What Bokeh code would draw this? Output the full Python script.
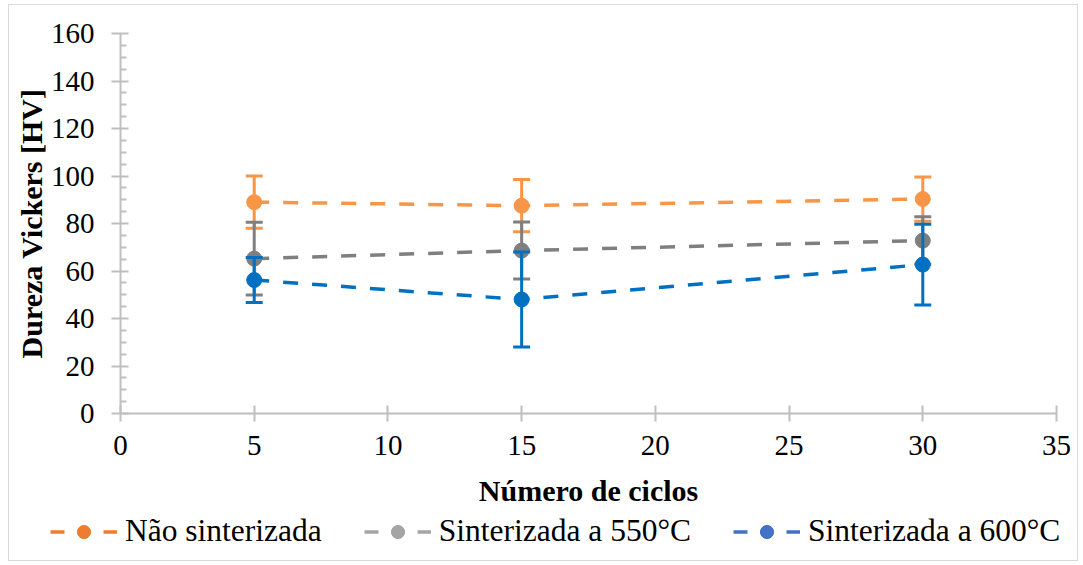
from bokeh.plotting import figure
from bokeh.models import ColumnDataSource, Legend, LegendItem, Range1d, FixedTicker
from bokeh.embed import file_html
from bokeh.resources import INLINE

# Hardness (HV) versus number of cycles, mean and standard deviation
ciclos = [5, 15, 30]

nao_sinterizada = [89.0, 87.5, 90.3]
nao_sinterizada_dp = [11.0, 11.0, 9.3]

sinterizada_550 = [65.2, 68.6, 72.8]
sinterizada_550_dp = [15.3, 12.0, 10.0]

sinterizada_600 = [56.2, 48.0, 62.7]
sinterizada_600_dp = [9.5, 20.0, 17.0]

x_ticks = [0, 5, 10, 15, 20, 25, 30, 35]
y_ticks = [0, 20, 40, 60, 80, 100, 120, 140, 160]

series = [
    ("Não sinterizada", nao_sinterizada, nao_sinterizada_dp, "#F79646", "#ED7D31"),
    ("Sinterizada a 550°C", sinterizada_550, sinterizada_550_dp, "#7F7F7F", "#A5A5A5"),
    ("Sinterizada a 600°C", sinterizada_600, sinterizada_600_dp, "#0070C0", "#4472C4"),
]

SERIF = "Liberation Serif"
W = 1070
BORDER = "1px solid #d9d9d9"

p = figure(
    width=W, height=505,
    x_range=Range1d(0, 35), y_range=Range1d(0, 160),
    output_backend="svg", toolbar_location=None,
    min_border_left=111, min_border_right=23,
    min_border_top=28, min_border_bottom=97,
)
p.margin = (4, 3, 0, 8)
p.styles = {"border": BORDER, "border-bottom": "none"}
p.outline_line_color = None
p.xgrid.visible = False
p.ygrid.visible = False
p.background_fill_color = "white"
p.border_fill_color = "white"

axis_color = "#BFBFBF"
for ax in (p.xaxis[0], p.yaxis[0]):
    ax.axis_line_color = axis_color
    ax.axis_line_width = 2
    ax.major_tick_line_color = axis_color
    ax.major_tick_line_width = 2
    ax.minor_tick_line_color = axis_color
    ax.minor_tick_line_width = 2
    ax.major_label_text_font = SERIF
    ax.major_label_text_font_size = "29px"
    ax.major_label_text_color = "black"
    ax.axis_label_text_font = SERIF
    ax.axis_label_text_font_size = "30px"
    ax.axis_label_text_font_style = "bold"
    ax.axis_label_text_color = "black"

p.xaxis.ticker = FixedTicker(ticks=x_ticks)
p.xaxis.major_tick_in = 8
p.xaxis.major_tick_out = 8
p.xaxis.minor_tick_in = 0
p.xaxis.minor_tick_out = 0
p.xaxis.major_label_standoff = 14
p.xaxis.axis_label = "Número de ciclos"
p.xaxis.axis_label_standoff = 16

minor_y = [v for v in range(0, 161, 5) if v % 20]
p.yaxis.ticker = FixedTicker(ticks=y_ticks, minor_ticks=minor_y)
p.yaxis.major_tick_in = 8
p.yaxis.major_tick_out = 9
p.yaxis.minor_tick_in = 6
p.yaxis.minor_tick_out = 0
p.yaxis.major_label_standoff = 17
p.yaxis.axis_label = "Dureza Vickers [HV]"
p.yaxis.axis_label_standoff = 0

# strip under the chart that holds the legend; its ranges sit away from
# the data so the swatch renderers only show up inside the legend
leg_fig = figure(
    width=W, height=52, output_backend="svg", toolbar_location=None,
    x_range=Range1d(0, 1), y_range=Range1d(0, 1),
    min_border=0, x_axis_location=None, y_axis_location=None,
)
leg_fig.margin = (0, 3, 3, 8)
leg_fig.styles = {"border": BORDER, "border-top": "none"}
leg_fig.outline_line_color = None
leg_fig.xgrid.visible = False
leg_fig.ygrid.visible = False

items = []
for name, vals, dp, color, leg_color in series:
    src = ColumnDataSource(dict(
        x=ciclos, y=vals,
        lo=[v - d for v, d in zip(vals, dp)],
        hi=[v + d for v, d in zip(vals, dp)],
    ))
    # error bars with caps
    p.segment(x0="x", y0="lo", x1="x", y1="hi", source=src,
              line_color=color, line_width=3)
    p.scatter(x="x", y="hi", source=src, marker="dash", size=17,
              line_color=color, line_width=3)
    p.scatter(x="x", y="lo", source=src, marker="dash", size=17,
              line_color=color, line_width=3)
    # dashed series line and markers
    p.line(x="x", y="y", source=src, line_color=color, line_width=3.5,
           line_dash="15 14")
    p.scatter(x="x", y="y", source=src, marker="circle", size=15,
              fill_color=color, line_color=color)

    # legend swatches
    sw_line = leg_fig.line(x="x", y="y", source=src, line_color=leg_color,
                           line_width=3.5, line_dash="14 39")
    sw_dot = leg_fig.scatter(x="x", y="y", source=src, marker="circle",
                             fill_color=leg_color, line_color=leg_color)
    items.append(LegendItem(label=name, renderers=[sw_line, sw_dot]))

legend = Legend(
    items=items, location=(41, 12), orientation="horizontal",
    border_line_color=None, background_fill_alpha=0,
    padding=0, margin=0, spacing=42,
    glyph_width=67, glyph_height=33, label_height=35,
    label_standoff=8,
    label_text_font=SERIF, label_text_font_size="31.5px",
    label_text_color="black",
)
leg_fig.add_layout(legend, "center")

open("out.html", "w").write(file_html([p, leg_fig], INLINE))
